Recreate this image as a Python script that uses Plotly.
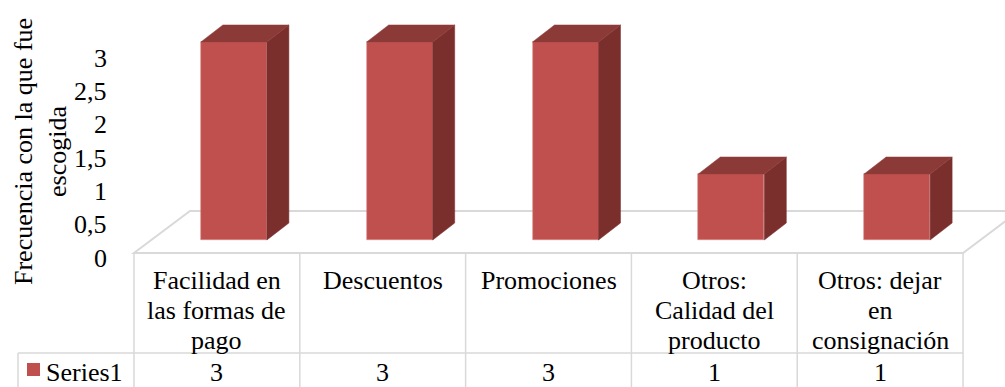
import plotly.graph_objects as go

# Data
categories = [
    "Facilidad en<br>las formas de<br>pago",
    "Descuentos",
    "Promociones",
    "Otros:<br>Calidad del<br>producto",
    "Otros: dejar<br>en<br>consignación",
]
values = [3, 3, 3, 1, 1]
series_name = "Series1"
tick_values = [0, 0.5, 1, 1.5, 2, 2.5, 3]
tick_labels = ["0", "0,5", "1", "1,5", "2", "2,5", "3"]
y_title = "Frecuencia con la que fue<br>escogida"

# Canvas / axis set-up (one x unit = one category column)
W, H = 1005, 387
X0, X1 = -1.308, 4.753
Y0, Y1 = -2.227, 3.636
PX_X = W / (X1 - X0)      # pixels per x unit
PX_Y = H / (Y1 - Y0)      # pixels per y unit

def dx(px):
    return px / PX_X

def dy(px):
    return px / PX_Y

# Oblique depth projection
FLOOR_DX, FLOOR_DY = dx(56), dy(42)     # full floor depth
FRONT_DX, FRONT_DY = dx(17), dy(13)     # floor front edge -> bar front plane
BAR_DX, BAR_DY = dx(22), dy(17)         # bar depth
BAR_W = dx(66)

FRONT_C = "#C0504D"
SIDE_C = "#7B2F2D"
TOP_C = "#8C3A38"
GRID_C = "#D9D9D9"
FONT = "Liberation Serif"
FS = 26
TXT = dict(family=FONT, size=FS, color="black")

n = len(values)
floor_front_y = -FRONT_DY
floor_left = -0.5
floor_right = n - 0.5

fig = go.Figure()

# Front faces
xs = [i + FRONT_DX for i in range(n)]
fig.add_trace(go.Bar(
    x=xs, y=values, width=BAR_W, base=0,
    marker=dict(color=FRONT_C, line=dict(color="#D88A88", width=0.6)),
    showlegend=False, hoverinfo="skip",
))

# Side and top faces
for xc, v in zip(xs, values):
    r = xc + BAR_W / 2
    l = xc - BAR_W / 2
    fig.add_trace(go.Scatter(
        x=[r, r + BAR_DX, r + BAR_DX, r, r],
        y=[0, BAR_DY, v + BAR_DY, v, 0],
        mode="lines", fill="toself", fillcolor=SIDE_C,
        line=dict(color=SIDE_C, width=0.5), showlegend=False, hoverinfo="skip",
    ))
    fig.add_trace(go.Scatter(
        x=[l, r, r + BAR_DX, l + BAR_DX, l],
        y=[v, v, v + BAR_DY, v + BAR_DY, v],
        mode="lines", fill="toself", fillcolor=TOP_C,
        line=dict(color=TOP_C, width=0.5), showlegend=False, hoverinfo="skip",
    ))

shapes = []
# Floor parallelogram
fl, fr = floor_left, floor_right
fy = floor_front_y
shapes.append(dict(
    type="path", layer="below",
    path=(f"M {fl},{fy} L {fr},{fy} L {fr + FLOOR_DX},{fy + FLOOR_DY} "
          f"L {fl + FLOOR_DX},{fy + FLOOR_DY} Z"),
    line=dict(color=GRID_C, width=2), fillcolor="white",
))

# Data table grid
row_split = fy - dy(100)
table_bottom = Y0
legend_left = X0 + dx(18)
for k in range(n + 1):
    xk = -0.5 + k
    shapes.append(dict(type="line", x0=xk, x1=xk, y0=fy, y1=table_bottom,
                       line=dict(color=GRID_C, width=1.5)))
shapes.append(dict(type="line", x0=legend_left, x1=fr, y0=row_split, y1=row_split,
                   line=dict(color=GRID_C, width=1.5)))
shapes.append(dict(type="line", x0=legend_left, x1=legend_left, y0=row_split,
                   y1=table_bottom, line=dict(color=GRID_C, width=1.5)))
# Legend key
key_x = X0 + dx(27)
key_y = row_split - dy(10)
shapes.append(dict(type="rect", x0=key_x, x1=key_x + dx(13), y0=key_y,
                   y1=key_y - dy(13), line=dict(width=0), fillcolor=FRONT_C))

annotations = []
# Value axis tick labels (on the floor front plane)
tick_step = dy(66.6)
for tv, tl in zip(tick_values, tick_labels):
    annotations.append(dict(
        x=X0 + dx(109), y=fy - dy(5) + tv * tick_step, text=tl, showarrow=False,
        xanchor="right", yanchor="middle", font=TXT,
    ))
# Axis title
annotations.append(dict(
    x=X0 + dx(40), y=Y1 - dy(152), text=y_title, showarrow=False, textangle=-90,
    xanchor="center", yanchor="middle", font=TXT,
))
# Category labels (one line at a time, 30 px leading) and values
LEAD = dy(30)
for i, (c, v) in enumerate(zip(categories, values)):
    for j, line in enumerate(c.split("<br>")):
        annotations.append(dict(
            x=i, y=fy - dy(27) - j * LEAD, text=line, showarrow=False,
            xanchor="center", yanchor="middle", font=TXT,
        ))
    annotations.append(dict(
        x=i, y=(row_split + table_bottom) / 2 - dy(2), text=str(v), showarrow=False,
        xanchor="center", yanchor="middle", font=TXT,
    ))
annotations.append(dict(
    x=key_x + dx(17), y=(row_split + table_bottom) / 2 - dy(2), text=series_name,
    showarrow=False, xanchor="left", yanchor="middle", font=TXT,
))

fig.update_layout(
    width=W, height=H, margin=dict(l=0, r=0, t=0, b=0),
    font=dict(family=FONT, size=FS, color="black"),
    paper_bgcolor="white", plot_bgcolor="white",
    xaxis=dict(range=[X0, X1], visible=False, fixedrange=True),
    yaxis=dict(range=[Y0, Y1], visible=False, fixedrange=True),
    shapes=shapes, annotations=annotations, bargap=0,
    showlegend=False,
)

fig.write_html("out.html")
